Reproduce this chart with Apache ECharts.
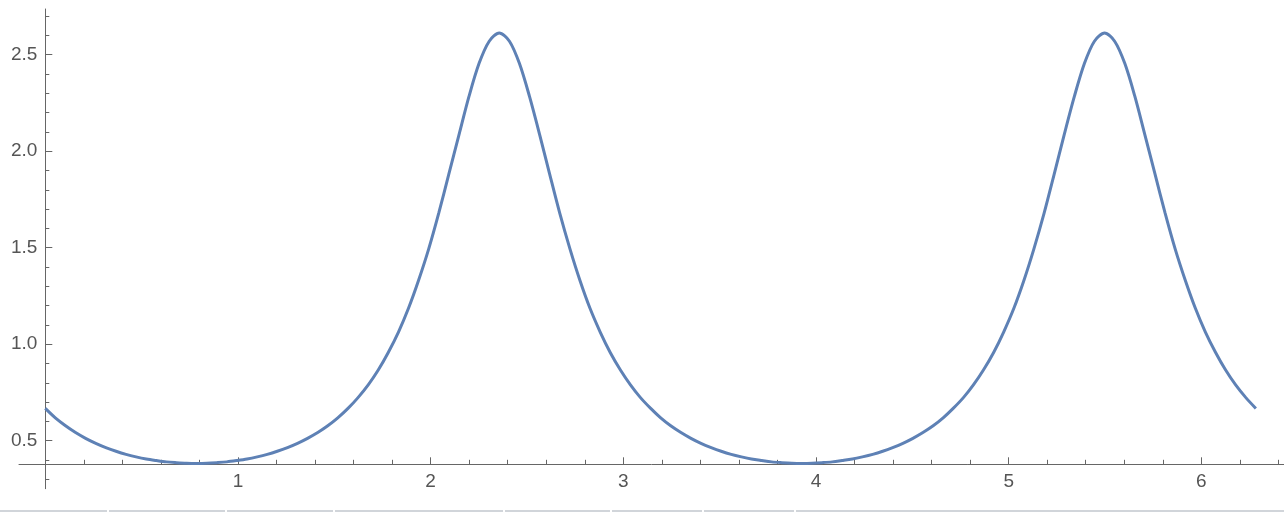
<!DOCTYPE html>
<html lang="en">
<head>
    <meta charset="UTF-8">
    <title>Plot</title>
    <script src="https://cdn.jsdelivr.net/npm/echarts@6/dist/echarts.min.js"></script>
    <style>
        html, body { margin: 0; padding: 0; background: #fff; }
    </style>
</head>
<body>
    <div id="main" style="width: 1284px;height:512px;"></div>
    <script>
        // x positions of the sampled points (0 .. 2*pi)
        var xs = [
            0, 0.052, 0.105, 0.157, 0.209, 0.262, 0.314, 0.367, 0.419, 0.471,
            0.524, 0.576, 0.628, 0.681, 0.733, 0.785, 0.838, 0.890, 0.942, 0.995,
            1.047, 1.100, 1.152, 1.204, 1.257, 1.309, 1.361, 1.414, 1.466, 1.518,
            1.571, 1.623, 1.676, 1.728, 1.780, 1.833, 1.885, 1.937, 1.990, 2.042,
            2.094, 2.147, 2.199, 2.251, 2.304, 2.356, 2.409, 2.461, 2.513, 2.566,
            2.618, 2.670, 2.723, 2.775, 2.827, 2.880, 2.932, 2.985, 3.037, 3.089,
            3.142, 3.194, 3.246, 3.299, 3.351, 3.403, 3.456, 3.508, 3.560, 3.613,
            3.665, 3.718, 3.770, 3.822, 3.875, 3.927, 3.979, 4.032, 4.084, 4.136,
            4.189, 4.241, 4.294, 4.346, 4.398, 4.451, 4.503, 4.555, 4.608, 4.660,
            4.712, 4.765, 4.817, 4.869, 4.922, 4.974, 5.027, 5.079, 5.131, 5.184,
            5.236, 5.288, 5.341, 5.393, 5.445, 5.498, 5.550, 5.603, 5.655, 5.707,
            5.760, 5.812, 5.864, 5.917, 5.969, 6.021, 6.074, 6.126, 6.178, 6.231,
            6.283
        ];
        // curve values
        var ys = [
            0.667, 0.618, 0.577, 0.542, 0.512, 0.486, 0.464, 0.445, 0.429, 0.416,
            0.405, 0.397, 0.390, 0.386, 0.383, 0.382, 0.383, 0.386, 0.390, 0.397,
            0.405, 0.416, 0.429, 0.445, 0.464, 0.486, 0.512, 0.542, 0.577, 0.618,
            0.667, 0.723, 0.789, 0.866, 0.957, 1.063, 1.186, 1.330, 1.494, 1.679,
            1.880, 2.085, 2.284, 2.454, 2.570, 2.612, 2.570, 2.454, 2.284, 2.085,
            1.880, 1.679, 1.494, 1.330, 1.186, 1.063, 0.957, 0.866, 0.789, 0.723,
            0.667, 0.618, 0.577, 0.542, 0.512, 0.486, 0.464, 0.445, 0.429, 0.416,
            0.405, 0.397, 0.390, 0.386, 0.383, 0.382, 0.383, 0.386, 0.390, 0.397,
            0.405, 0.416, 0.429, 0.445, 0.464, 0.486, 0.512, 0.542, 0.577, 0.618,
            0.667, 0.723, 0.789, 0.866, 0.957, 1.063, 1.186, 1.330, 1.494, 1.679,
            1.880, 2.085, 2.284, 2.454, 2.570, 2.612, 2.570, 2.454, 2.284, 2.085,
            1.880, 1.679, 1.494, 1.330, 1.186, 1.063, 0.957, 0.866, 0.789, 0.723,
            0.667
        ];
        // tick positions
        var xMajor = [1, 2, 3, 4, 5, 6];
        var xMinor = [0.2, 0.4, 0.6, 0.8, 1.2, 1.4, 1.6, 1.8, 2.2, 2.4, 2.6, 2.8,
            3.2, 3.4, 3.6, 3.8, 4.2, 4.4, 4.6, 4.8, 5.2, 5.4, 5.6, 5.8, 6.2, 6.4];
        var yMajor = [0.5, 1.0, 1.5, 2.0, 2.5];
        var yMinor = [0.3, 0.4, 0.6, 0.7, 0.8, 0.9, 1.1, 1.2, 1.3, 1.4, 1.6, 1.7,
            1.8, 1.9, 2.1, 2.2, 2.3, 2.4, 2.6, 2.7];

        var xMin = -0.1365, xMax = 6.429;
        var yMin = 0.251, yMax = 2.737;
        var axisColor = '#666666';
        var labelStyle = { color: '#555555', fontSize: 19, fontFamily: 'Liberation Sans, Arial, sans-serif' };

        var points = [];
        for (var i = 0; i < xs.length; i++) {
            points.push([xs[i], ys[i]]);
        }

        // thin grey strip along the bottom edge of the screenshot
        var stripEdges = [[0, 107], [109, 225], [227, 333], [335, 503], [505, 610], [612, 702], [704, 794], [796, 1284]];
        var strip = stripEdges.map(function (e) {
            return { type: 'rect', shape: { x: e[0], y: 510, width: e[1] - e[0], height: 2 }, style: { fill: '#d1d5da' }, silent: true };
        });

        var myChart = echarts.init(document.getElementById('main'));
        var option = {
            animation: false,
            grid: { left: 19, right: 0, top: 9, bottom: 23.3, containLabel: false, outerBoundsMode: 'none' },
            xAxis: [{
                type: 'value', min: xMin, max: xMax, position: 'bottom', offset: -24.4,
                axisLine: { show: true, onZero: false, lineStyle: { color: axisColor, width: 1 } },
                axisTick: { show: true, inside: true, length: 7, customValues: xMajor, lineStyle: { color: axisColor } },
                axisLabel: Object.assign({ show: true, margin: 8, customValues: xMajor }, labelStyle),
                splitLine: { show: false }
            }, {
                type: 'value', min: xMin, max: xMax, position: 'bottom', offset: -24.4,
                axisLine: { show: false, onZero: false },
                axisTick: { show: true, inside: true, length: 4.5, customValues: xMinor, lineStyle: { color: axisColor } },
                axisLabel: { show: false },
                splitLine: { show: false }
            }],
            yAxis: [{
                type: 'value', min: yMin, max: yMax, position: 'left', offset: -26.3,
                axisLine: { show: true, onZero: false, lineStyle: { color: axisColor, width: 1 } },
                axisTick: { show: true, inside: true, length: 7, customValues: yMajor, lineStyle: { color: axisColor } },
                axisLabel: Object.assign({
                    show: true, margin: 8, customValues: yMajor,
                    formatter: function (v) { return v.toFixed(1); }
                }, labelStyle),
                splitLine: { show: false }
            }, {
                type: 'value', min: yMin, max: yMax, position: 'left', offset: -26.3,
                axisLine: { show: false, onZero: false },
                axisTick: { show: true, inside: true, length: 4, customValues: yMinor, lineStyle: { color: axisColor } },
                axisLabel: { show: false },
                splitLine: { show: false }
            }],
            graphic: strip,
            series: [{
                type: 'line',
                xAxisIndex: 0,
                yAxisIndex: 0,
                data: points,
                showSymbol: false,
                smooth: 0.3,
                lineStyle: { color: '#5e81b5', width: 3 },
                clip: false
            }]
        };
        myChart.setOption(option);
    </script>
</body>
</html>
